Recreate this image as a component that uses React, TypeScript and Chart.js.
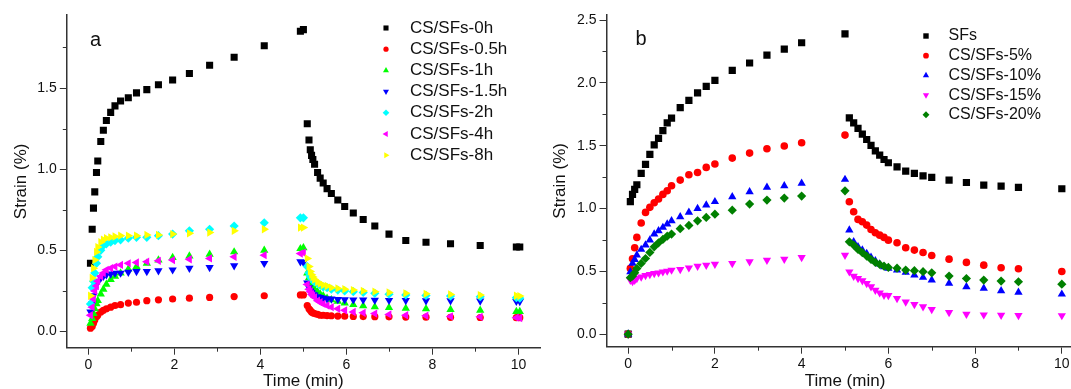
import React, { useEffect, useRef } from 'react';
import { Chart, registerables } from 'chart.js';

Chart.register(...registerables);

const FONT = '"Liberation Sans", Arial, Helvetica, sans-serif';

// ---------------- Panel a ----------------
const timeCreepA = [0.05, 0.09, 0.12, 0.15, 0.19, 0.22, 0.29, 0.35, 0.42, 0.52, 0.62, 0.75, 0.93, 1.12, 1.36, 1.63, 1.96, 2.35, 2.82, 3.39, 4.09, 4.93, 5.0];
const timeRecoveryA = [5.09, 5.13, 5.16, 5.19, 5.22, 5.26, 5.33, 5.39, 5.46, 5.55, 5.65, 5.8, 5.96, 6.16, 6.39, 6.66, 6.99, 7.38, 7.85, 8.42, 9.11, 9.95, 10.03];

const labelsA = ['CS/SFs-0h', 'CS/SFs-0.5h', 'CS/SFs-1h', 'CS/SFs-1.5h', 'CS/SFs-2h', 'CS/SFs-4h', 'CS/SFs-8h'];

const creep0h = [0.42, 0.63, 0.76, 0.86, 0.98, 1.05, 1.17, 1.24, 1.3, 1.35, 1.39, 1.42, 1.44, 1.47, 1.49, 1.52, 1.55, 1.59, 1.64, 1.69, 1.76, 1.85, 1.86];
const recovery0h = [1.28, 1.18, 1.12, 1.085, 1.06, 1.03, 0.98, 0.945, 0.915, 0.88, 0.85, 0.81, 0.77, 0.73, 0.69, 0.65, 0.6, 0.56, 0.55, 0.54, 0.53, 0.52, 0.52];

const creep05h = [0.02, 0.03, 0.05, 0.07, 0.09, 0.1, 0.12, 0.13, 0.14, 0.15, 0.16, 0.165, 0.175, 0.18, 0.19, 0.195, 0.2, 0.205, 0.21, 0.215, 0.22, 0.225, 0.225];
const recovery05h = [0.16, 0.14, 0.13, 0.12, 0.115, 0.11, 0.105, 0.1, 0.1, 0.098, 0.097, 0.095, 0.094, 0.093, 0.092, 0.091, 0.09, 0.089, 0.088, 0.087, 0.086, 0.085, 0.085];

const creep1h = [0.05, 0.08, 0.11, 0.14, 0.17, 0.19, 0.23, 0.26, 0.29, 0.32, 0.34, 0.36, 0.385, 0.4, 0.42, 0.44, 0.455, 0.465, 0.475, 0.49, 0.5, 0.51, 0.515];
const recovery1h = [0.36, 0.33, 0.31, 0.29, 0.275, 0.26, 0.245, 0.23, 0.22, 0.205, 0.195, 0.185, 0.175, 0.165, 0.158, 0.152, 0.147, 0.143, 0.14, 0.135, 0.13, 0.123, 0.122];

const creep15h = [0.12, 0.17, 0.22, 0.26, 0.29, 0.31, 0.33, 0.34, 0.35, 0.355, 0.36, 0.36, 0.365, 0.37, 0.37, 0.375, 0.38, 0.39, 0.395, 0.405, 0.42, 0.43, 0.425];
const recovery15h = [0.3, 0.27, 0.25, 0.24, 0.23, 0.225, 0.215, 0.21, 0.205, 0.2, 0.2, 0.198, 0.196, 0.195, 0.194, 0.193, 0.192, 0.191, 0.19, 0.19, 0.188, 0.186, 0.185];

const creep2h = [0.17, 0.27, 0.31, 0.36, 0.42, 0.46, 0.5, 0.53, 0.54, 0.55, 0.56, 0.565, 0.575, 0.58, 0.58, 0.59, 0.6, 0.62, 0.63, 0.65, 0.67, 0.7, 0.7];
const recovery2h = [0.4, 0.36, 0.34, 0.325, 0.315, 0.305, 0.295, 0.285, 0.275, 0.27, 0.26, 0.255, 0.25, 0.245, 0.24, 0.235, 0.23, 0.225, 0.222, 0.218, 0.214, 0.208, 0.205];

const creep4h = [0.1, 0.15, 0.2, 0.25, 0.28, 0.31, 0.34, 0.36, 0.38, 0.39, 0.4, 0.41, 0.42, 0.425, 0.43, 0.435, 0.44, 0.445, 0.45, 0.46, 0.47, 0.48, 0.485];
const recovery4h = [0.29, 0.26, 0.245, 0.23, 0.22, 0.21, 0.19, 0.18, 0.17, 0.16, 0.15, 0.14, 0.13, 0.12, 0.115, 0.11, 0.105, 0.1, 0.097, 0.093, 0.09, 0.085, 0.083];

const creep8h = [0.22, 0.33, 0.39, 0.44, 0.49, 0.52, 0.55, 0.565, 0.575, 0.58, 0.585, 0.59, 0.59, 0.59, 0.595, 0.595, 0.6, 0.605, 0.61, 0.62, 0.63, 0.64, 0.64];
const recovery8h = [0.45, 0.4, 0.37, 0.35, 0.335, 0.32, 0.305, 0.295, 0.285, 0.28, 0.27, 0.265, 0.26, 0.255, 0.25, 0.245, 0.24, 0.235, 0.232, 0.228, 0.224, 0.22, 0.218];

// ---------------- Panel b ----------------
const timeCreepB = [0, 0.05, 0.1, 0.15, 0.2, 0.3, 0.4, 0.5, 0.6, 0.7, 0.8, 0.9, 1.0, 1.2, 1.4, 1.6, 1.8, 2.0, 2.4, 2.8, 3.2, 3.6, 4.0, 5.0];
const timeRecoveryB = [5.1, 5.2, 5.3, 5.4, 5.5, 5.6, 5.7, 5.8, 5.9, 6.0, 6.2, 6.4, 6.6, 6.8, 7.0, 7.4, 7.8, 8.2, 8.6, 9.0, 10.0];

const labelsB = ['SFs', 'CS/SFs-5%', 'CS/SFs-10%', 'CS/SFs-15%', 'CS/SFs-20%'];

const creepSF = [0, 1.054, 1.112, 1.152, 1.189, 1.279, 1.351, 1.431, 1.507, 1.558, 1.619, 1.682, 1.72, 1.802, 1.86, 1.921, 1.972, 2.02, 2.099, 2.158, 2.221, 2.269, 2.319, 2.39];
const recoverySF = [1.722, 1.682, 1.637, 1.592, 1.549, 1.502, 1.459, 1.424, 1.39, 1.364, 1.332, 1.298, 1.279, 1.26, 1.247, 1.226, 1.207, 1.186, 1.178, 1.168, 1.157];

const creep5 = [0, 0.523, 0.6, 0.687, 0.77, 0.884, 0.969, 1.009, 1.046, 1.075, 1.112, 1.141, 1.181, 1.226, 1.269, 1.287, 1.327, 1.354, 1.401, 1.441, 1.476, 1.497, 1.523, 1.584];
const recovery5 = [1.054, 0.974, 0.913, 0.894, 0.868, 0.833, 0.807, 0.788, 0.77, 0.748, 0.727, 0.687, 0.669, 0.65, 0.626, 0.597, 0.571, 0.549, 0.528, 0.52, 0.499];

const creep10 = [0, 0.496, 0.563, 0.594, 0.629, 0.674, 0.709, 0.748, 0.796, 0.823, 0.849, 0.876, 0.902, 0.934, 0.969, 1.0, 1.027, 1.054, 1.093, 1.133, 1.168, 1.18, 1.2, 1.231];
const recovery10 = [0.828, 0.735, 0.695, 0.669, 0.642, 0.611, 0.584, 0.557, 0.536, 0.523, 0.51, 0.491, 0.47, 0.451, 0.43, 0.404, 0.377, 0.364, 0.345, 0.332, 0.318];

const creep15 = [0, 0.43, 0.42, 0.43, 0.443, 0.456, 0.467, 0.475, 0.483, 0.488, 0.496, 0.502, 0.51, 0.515, 0.528, 0.541, 0.549, 0.557, 0.563, 0.576, 0.589, 0.597, 0.61, 0.629];
const recovery15 = [0.496, 0.462, 0.443, 0.425, 0.404, 0.377, 0.35, 0.329, 0.31, 0.308, 0.284, 0.257, 0.236, 0.218, 0.196, 0.172, 0.159, 0.154, 0.151, 0.149, 0.148];

const creep20 = [0, 0.449, 0.462, 0.488, 0.523, 0.563, 0.602, 0.65, 0.695, 0.727, 0.754, 0.78, 0.796, 0.839, 0.865, 0.902, 0.929, 0.955, 0.987, 1.035, 1.067, 1.083, 1.099, 1.141];
const recovery20 = [0.735, 0.709, 0.674, 0.648, 0.621, 0.594, 0.571, 0.555, 0.541, 0.531, 0.525, 0.51, 0.505, 0.497, 0.488, 0.462, 0.443, 0.43, 0.422, 0.417, 0.398];

// ---------------- Ticks ----------------
const xMajorStep = 2;
const xMinorTicks = [1, 3, 5, 7, 9];
const yMajorStep = 0.5;
const yMinorTicksA = [0.25, 0.75, 1.25, 1.75];
const yMinorTicksB = [0.25, 0.75, 1.25, 1.75, 2.25];

// ---------------- Styles ----------------
type Style = { color: string; shape: string; rot: number; r: number };
const stylesA: Style[] = [
  { color: '#000000', shape: 'rect', rot: 0, r: 5.0 },
  { color: '#ff0000', shape: 'circle', rot: 0, r: 3.6 },
  { color: '#00ff00', shape: 'triangle', rot: 0, r: 4.8 },
  { color: '#0000ff', shape: 'triangle', rot: 180, r: 4.8 },
  { color: '#00ffff', shape: 'rectRot', rot: 0, r: 4.6 },
  { color: '#ff00ff', shape: 'triangle', rot: 270, r: 4.8 },
  { color: '#ffff00', shape: 'triangle', rot: 90, r: 4.8 },
];
const stylesB: Style[] = [
  { color: '#000000', shape: 'rect', rot: 0, r: 5.1 },
  { color: '#ff0000', shape: 'circle', rot: 0, r: 3.8 },
  { color: '#0000ff', shape: 'triangle', rot: 0, r: 4.8 },
  { color: '#ff00ff', shape: 'triangle', rot: 180, r: 4.8 },
  { color: '#008000', shape: 'rectRot', rot: 0, r: 4.6 },
];

function toPoints(times: number[], values: number[]) {
  return times.map((t, i) => ({ x: t, y: values[i] }));
}

function makeDatasets(labels: string[], styles: Style[], series: { x: number; y: number }[][]) {
  const n = labels.length;
  return labels.map((label, i) => ({
    label,
    data: series[i],
    pointStyle: styles[i].shape,
    pointRotation: styles[i].rot,
    pointRadius: styles[i].r,
    pointBackgroundColor: styles[i].color,
    pointBorderColor: styles[i].color,
    pointBorderWidth: 0,
    backgroundColor: styles[i].color,
    showLine: false,
    order: n - i,
  }));
}

function drawShape(ctx: CanvasRenderingContext2D, shape: string, rotDeg: number, x: number, y: number, r: number, color: string) {
  ctx.save();
  ctx.fillStyle = color;
  ctx.beginPath();
  if (shape === 'circle') {
    ctx.arc(x, y, r, 0, Math.PI * 2);
  } else if (shape === 'rect') {
    const s = r * Math.SQRT1_2;
    ctx.rect(x - s, y - s, 2 * s, 2 * s);
  } else if (shape === 'rectRot') {
    ctx.moveTo(x - r, y);
    ctx.lineTo(x, y - r);
    ctx.lineTo(x + r, y);
    ctx.lineTo(x, y + r);
    ctx.closePath();
  } else {
    let a = (rotDeg * Math.PI) / 180;
    ctx.moveTo(x + Math.sin(a) * r, y - Math.cos(a) * r);
    a += (2 * Math.PI) / 3;
    ctx.lineTo(x + Math.sin(a) * r, y - Math.cos(a) * r);
    a += (2 * Math.PI) / 3;
    ctx.lineTo(x + Math.sin(a) * r, y - Math.cos(a) * r);
    ctx.closePath();
  }
  ctx.fill();
  ctx.restore();
}

const customLegend = {
  id: 'customLegend',
  afterDraw(chart: any, _args: any, opts: any) {
    const ctx: CanvasRenderingContext2D = chart.ctx;
    ctx.save();
    chart.data.datasets.forEach((ds: any, i: number) => {
      const y = opts.y0 + i * opts.dy;
      drawShape(ctx, ds.pointStyle, ds.pointRotation, opts.markerX, y, ds.pointRadius * opts.markerScale, ds.pointBackgroundColor);
      ctx.fillStyle = '#111';
      ctx.font = `${opts.fontSize}px ${FONT}`;
      ctx.textAlign = 'left';
      ctx.textBaseline = 'middle';
      ctx.fillText(ds.label, opts.textX, y);
    });
    ctx.font = `${opts.panelSize}px ${FONT}`;
    ctx.fillStyle = '#111';
    ctx.textAlign = 'center';
    ctx.textBaseline = 'middle';
    ctx.fillText(opts.panel, opts.panelX, opts.panelY);
    ctx.restore();
  },
};

const minorTicks = {
  id: 'minorTicks',
  afterDraw(chart: any, _args: any, opts: any) {
    const ctx: CanvasRenderingContext2D = chart.ctx;
    const xs = chart.scales.x;
    const ys = chart.scales.y;
    const { left, bottom } = chart.chartArea;
    ctx.save();
    ctx.strokeStyle = opts.color;
    ctx.lineWidth = 1;
    ctx.beginPath();
    (opts.x as number[]).forEach((v) => {
      const px = Math.round(xs.getPixelForValue(v)) + 0.5;
      ctx.moveTo(px, bottom);
      ctx.lineTo(px, bottom + opts.len);
    });
    (opts.y as number[]).forEach((v) => {
      const py = Math.round(ys.getPixelForValue(v)) + 0.5;
      ctx.moveTo(left, py);
      ctx.lineTo(left - opts.len, py);
    });
    ctx.stroke();
    ctx.restore();
  },
};

type PanelCfg = {
  datasets: any[];
  yMin: number;
  yMax: number;
  yWidth: number;
  xHeight: number;
  padRight: number;
  padTop: number;
  yTitlePad: number;
  yMinor: number[];
  legend: any;
};

function buildConfig(p: PanelCfg): any {
  const axisColor = '#333';
  const textColor = '#111';
  return {
    type: 'scatter',
    data: { datasets: p.datasets },
    plugins: [customLegend, minorTicks],
    options: {
      responsive: false,
      animation: false,
      events: [],
      layout: { padding: { top: p.padTop, right: p.padRight, left: 0, bottom: 0 } },
      scales: {
        x: {
          type: 'linear',
          min: -0.5,
          max: 10.5,
          afterFit: (s: any) => { s.height = p.xHeight; },
          grid: { drawOnChartArea: false, drawTicks: true, tickLength: 7, color: axisColor, lineWidth: 1 },
          border: { display: true, color: axisColor, width: 1.5 },
          ticks: {
            stepSize: xMajorStep,
            includeBounds: false,
            autoSkip: false,
            maxRotation: 0,
            padding: 2,
            color: textColor,
            font: { size: 14, family: FONT },
            callback: (v: number) => String(v),
          },
          title: {
            display: true,
            text: 'Time (min)',
            color: textColor,
            font: { size: 17, family: FONT },
            padding: { top: 0, bottom: -2.5 },
          },
        },
        y: {
          type: 'linear',
          min: p.yMin,
          max: p.yMax,
          afterFit: (s: any) => { s.width = p.yWidth; },
          grid: { drawOnChartArea: false, drawTicks: true, tickLength: 7, color: axisColor, lineWidth: 1 },
          border: { display: true, color: axisColor, width: 1.5 },
          ticks: {
            stepSize: yMajorStep,
            includeBounds: false,
            autoSkip: false,
            padding: 3,
            color: textColor,
            font: { size: 14, family: FONT },
            callback: (v: number) => Number(v).toFixed(1),
          },
          title: {
            display: true,
            text: 'Strain (%)',
            color: textColor,
            font: { size: 17, family: FONT },
            padding: { top: p.yTitlePad, bottom: 0 },
          },
        },
      },
      plugins: {
        legend: { display: false },
        tooltip: { enabled: false },
        customLegend: p.legend,
        minorTicks: { x: xMinorTicks, y: p.yMinor, len: 4, color: axisColor },
      },
    },
  };
}

function configA() {
  const tA = [...timeCreepA, ...timeRecoveryA];
  const series = [
    toPoints(tA, [...creep0h, ...recovery0h]),
    toPoints(tA, [...creep05h, ...recovery05h]),
    toPoints(tA, [...creep1h, ...recovery1h]),
    toPoints(tA, [...creep15h, ...recovery15h]),
    toPoints(tA, [...creep2h, ...recovery2h]),
    toPoints(tA, [...creep4h, ...recovery4h]),
    toPoints(tA, [...creep8h, ...recovery8h]),
  ];
  return buildConfig({
    datasets: makeDatasets(labelsA, stylesA, series),
    yMin: -0.1,
    yMax: 1.95,
    yWidth: 66.8,
    xHeight: 41.3,
    padRight: 3,
    padTop: 15,
    yTitlePad: 11,
    yMinor: yMinorTicksA,
    legend: { markerX: 386, textX: 410, y0: 28, dy: 21.2, fontSize: 17, markerScale: 0.72, panel: 'a', panelX: 95.5, panelY: 40, panelSize: 20 },
  });
}

function configB() {
  const tB = [...timeCreepB, ...timeRecoveryB];
  const series = [
    toPoints(tB, [...creepSF, ...recoverySF]),
    toPoints(tB, [...creep5, ...recovery5]),
    toPoints(tB, [...creep10, ...recovery10]),
    toPoints(tB, [...creep15, ...recovery15]),
    toPoints(tB, [...creep20, ...recovery20]),
  ];
  return buildConfig({
    datasets: makeDatasets(labelsB, stylesB, series),
    yMin: -0.1,
    yMax: 2.54,
    yWidth: 61.5,
    xHeight: 42.3,
    padRight: 6.5,
    padTop: 15,
    yTitlePad: 5.6,
    yMinor: yMinorTicksB,
    legend: { markerX: 381, textX: 403.5, y0: 36, dy: 19.7, fontSize: 16, markerScale: 0.75, panel: 'b', panelX: 96, panelY: 39, panelSize: 20 },
  });
}

function Panel({ left, makeConfig }: { left: number; makeConfig: () => any }) {
  const ref = useRef<HTMLCanvasElement | null>(null);
  useEffect(() => {
    if (!ref.current) return;
    const chart = new Chart(ref.current, makeConfig());
    return () => chart.destroy();
  }, []);
  return (
    <canvas
      ref={ref}
      width={545}
      height={389}
      style={{ position: 'absolute', left, top: 0, width: 545, height: 389 }}
    />
  );
}

export default function App() {
  return (
    <div
      style={{
        position: 'absolute',
        left: 0,
        top: 0,
        width: 1071,
        height: 389,
        overflow: 'hidden',
        background: '#ffffff',
      }}
    >
      <Panel left={0} makeConfig={configA} />
      <Panel left={545} makeConfig={configB} />
    </div>
  );
}
